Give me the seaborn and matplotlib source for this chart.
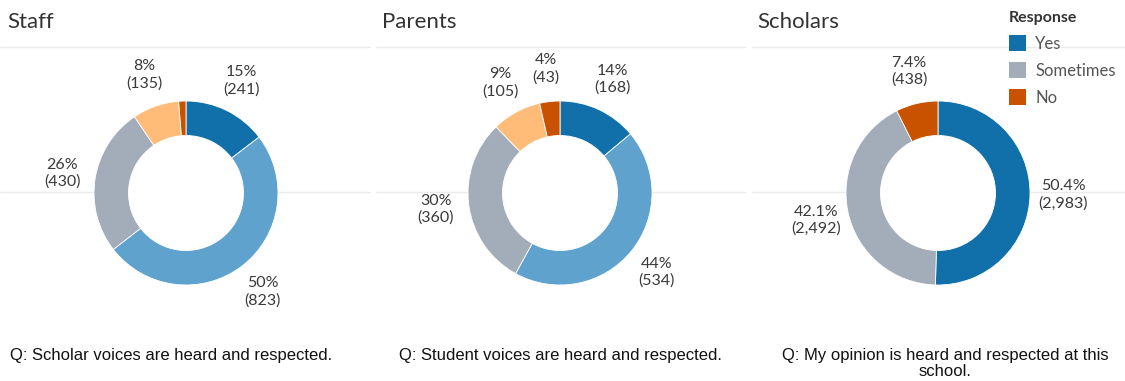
import numpy as np
import matplotlib
matplotlib.use("Agg")
import matplotlib.pyplot as plt
from matplotlib.patches import Patch, Circle
import seaborn as sns

# ---------------- data ----------------
panels = ["Staff", "Parents", "Scholars"]
staff_values = [241, 823, 430, 135, 21]
staff_pct = ["15%", "50%", "26%", "8%", ""]
parents_values = [168, 534, 360, 105, 43]
parents_pct = ["14%", "44%", "30%", "9%", "4%"]
scholars_values = [2983, 2492, 438]
scholars_pct = ["50.4%", "42.1%", "7.4%"]
questions = [
    "Q: Scholar voices are heard and respected.",
    "Q: Student voices are heard and respected.",
    "Q: My opinion is heard and respected at this\nschool.",
]
legend_labels = ["Yes", "Sometimes", "No"]

# colours (Tableau colour-blind palette)
five_colors = sns.color_palette(["#1170aa", "#5fa2ce", "#a3acb9", "#ffbc79", "#c85200"])
three_colors = sns.color_palette(["#1170aa", "#a3acb9", "#c85200"])

sns.set_theme(style="white")
plt.rcParams["font.family"] = ["Lato", "DejaVu Sans"]

W, H = 1125, 381
fig = plt.figure(figsize=(W / 100, H / 100), dpi=100)

# background axes in pixel coordinates for chrome
bg = fig.add_axes([0, 0, 1, 1])
bg.set_xlim(0, W)
bg.set_ylim(H, 0)
bg.axis("off")

line_col = "#ebebeb"
panel_x = [(0, 370), (376, 745), (752, 1125)]
for (x0, x1) in panel_x:
    bg.plot([x0, x1], [47, 47], color=line_col, lw=1.0, zorder=0)
    bg.plot([x0, x1], [192, 192], color=line_col, lw=1.0, zorder=0)

title_x = [7, 382, 757]
for t, x in zip(panels, title_x):
    bg.text(x, 22, t, fontsize=16, color="#333333", ha="left", va="center")

caption_x = [171, 560, 945]
for q, x in zip(questions, caption_x):
    bg.text(x, 348, q, fontsize=12, color="#111111", ha="center", va="top",
            family=["Liberation Sans", "DejaVu Sans"], linespacing=1.08)

R = 92.0
centers = [(186, 193), (560, 193), (938, 193)]
datasets = [
    (staff_values, staff_pct, five_colors),
    (parents_values, parents_pct, five_colors),
    (scholars_values, scholars_pct, three_colors),
]

half = 1.75 * R
for (cx, cy), (vals, pcts, cols) in zip(centers, datasets):
    ax = fig.add_axes([(cx - half) / W, (H - (cy + half)) / H, 2 * half / W, 2 * half / H])
    wedges, _ = ax.pie(vals, colors=cols, startangle=90, counterclock=False, radius=1.0,
                       wedgeprops=dict(width=0.375, edgecolor="white", linewidth=0.6))
    ax.set_xlim(-half / R, half / R)
    ax.set_ylim(-half / R, half / R)
    ax.set_aspect("equal")
    ax.axis("off")
    ax.patch.set_alpha(0)
    ax.add_patch(Circle((0, 0), 0.625, color="white", zorder=0.5))
    total = float(sum(vals))
    cum = 0.0
    for v, p in zip(vals, pcts):
        mid = (cum + v / 2) / total
        cum += v
        if not p:
            continue
        ang = np.deg2rad(90 - 360 * mid)
        r = 1.36
        ax.text(r * np.cos(ang), r * np.sin(ang), f"{p}\n({v:,})", ha="center", va="center",
                fontsize=11.5, color="#3a3a3a", linespacing=1.25)

handles = [Patch(facecolor=c, edgecolor="none") for c in three_colors]
leg = fig.legend(handles, legend_labels, title="Response", loc="upper left",
                 bbox_to_anchor=(997 / W, 1 + 1 / H), frameon=False, fontsize=12,
                 title_fontsize=11.5, handlelength=1.05, handleheight=1.1,
                 labelspacing=0.62, handletextpad=0.55, alignment="left", borderpad=0.2)
leg.get_title().set_fontweight("bold")
leg.get_title().set_color("#333333")
for t in leg.get_texts():
    t.set_color("#555555")

fig.savefig("out.png", dpi=100)
